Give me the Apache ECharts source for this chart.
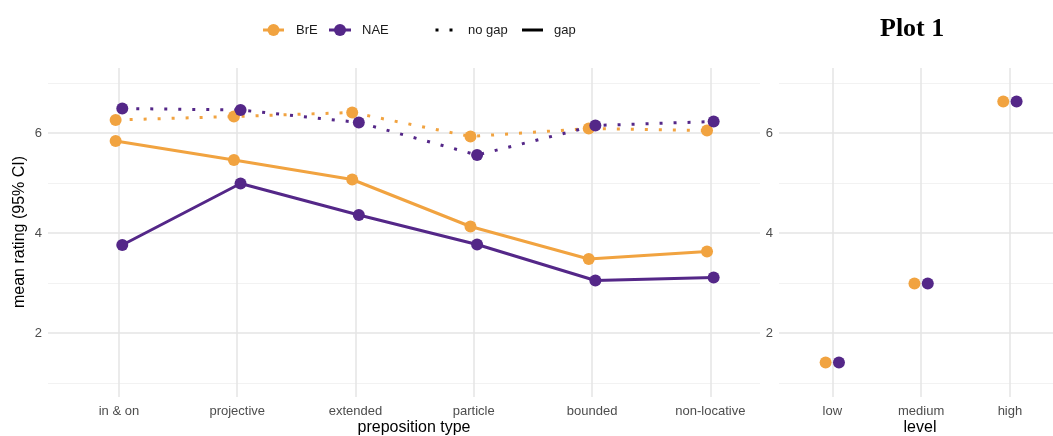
<!DOCTYPE html>
<html>
<head>
<meta charset="utf-8">
<script src="https://cdn.jsdelivr.net/npm/echarts@6/dist/echarts.min.js"></script>
<style>html,body{margin:0;padding:0;background:#fff}#c{width:1053px;height:436px}</style>
</head>
<body>
<div id="c"></div>
<script>
// ---- data ----
const categories = ['in & on', 'projective', 'extended', 'particle', 'bounded', 'non-locative'];
const breGap   = [5.84, 5.46, 5.07, 4.13, 3.48, 3.63];
const naeGap   = [3.76, 4.99, 4.36, 3.77, 3.05, 3.11];
const breNoGap = [6.26, 6.33, 6.41, 5.93, 6.09, 6.05];
const naeNoGap = [6.49, 6.46, 6.21, 5.56, 6.15, 6.23];
const levels   = ['low', 'medium', 'high'];
const breLevel = [1.41, 2.99, 6.63];
const naeLevel = [1.41, 2.99, 6.63];
const yTicks = [2, 4, 6];
const yMinor = [1, 3, 5, 7];

// ---- styles ----
const ORANGE = '#F1A340', PURPLE = '#542788';
const FONT = 'Liberation Sans, Arial, sans-serif';
const dodgeL = 0.028, dodgeR = 0.075;
const dotted = [3, 11];

function pts(vals, off) { return vals.map((v, i) => [i + off, v]); }

function gridSeries(xi, nCats) {
  const data = [];
  yTicks.forEach(v => data.push({ yAxis: v, lineStyle: { color: '#e4e4e4', width: 1.5 } }));
  yMinor.forEach(v => data.push({ yAxis: v, lineStyle: { color: '#f2f2f2', width: 1 } }));
  for (let i = 0; i < nCats; i++) data.push({ xAxis: i, lineStyle: { color: '#e4e4e4', width: 1.5 } });
  return {
    type: 'line', xAxisIndex: xi, yAxisIndex: xi, data: [], silent: true, z: 0,
    markLine: { silent: true, z: 0, zlevel: 0, symbol: 'none', label: { show: false }, animation: false,
      lineStyle: { type: 'solid' }, data: data }
  };
}

function lineSeries(name, vals, off, color, type) {
  return {
    name: name, type: 'line', xAxisIndex: 0, yAxisIndex: 0, z: 3,
    data: pts(vals, off), symbol: 'circle', symbolSize: 12, showSymbol: true,
    itemStyle: { color: color, borderWidth: 0, opacity: 1 },
    lineStyle: { color: color, width: 3, type: type, cap: 'butt' },
    animation: false, emphasis: { disabled: true }, silent: true
  };
}

function scatterSeries(name, vals, off, color) {
  return {
    name: name, type: 'scatter', xAxisIndex: 1, yAxisIndex: 1, z: 3, data: pts(vals, off),
    symbol: 'circle', symbolSize: 12, itemStyle: { color: color, opacity: 1, borderWidth: 0 },
    emphasis: { disabled: true }, silent: true
  };
}

const legendFont = '13px ' + FONT;
const option = {
  animation: false,
  textStyle: { fontFamily: FONT },
  grid: [
    { left: 48, top: 68, width: 712, height: 329 },
    { left: 779, top: 68, width: 274, height: 329 }
  ],
  xAxis: [
    { type: 'value', gridIndex: 0, min: -0.6, max: 5.42,
      axisLine: { show: false }, axisTick: { show: false }, splitLine: { show: false },
      axisLabel: { customValues: [0, 1, 2, 3, 4, 5], formatter: v => categories[Math.round(v)],
        color: '#4d4d4d', fontSize: 13, margin: 8, fontFamily: FONT } },
    { type: 'value', gridIndex: 1, min: -0.6, max: 2.485,
      axisLine: { show: false }, axisTick: { show: false }, splitLine: { show: false },
      axisLabel: { customValues: [0, 1, 2], formatter: v => levels[Math.round(v)],
        color: '#4d4d4d', fontSize: 13, margin: 8, fontFamily: FONT } }
  ],
  yAxis: [
    { type: 'value', gridIndex: 0, min: 0.72, max: 7.3,
      axisLine: { show: false }, axisTick: { show: false }, splitLine: { show: false },
      axisLabel: { customValues: yTicks, color: '#4d4d4d', fontSize: 13, margin: 6, fontFamily: FONT } },
    { type: 'value', gridIndex: 1, min: 0.72, max: 7.3,
      axisLine: { show: false }, axisTick: { show: false }, splitLine: { show: false },
      axisLabel: { customValues: yTicks, color: '#4d4d4d', fontSize: 13, margin: 6, fontFamily: FONT } }
  ],
  graphic: [
    { type: 'text', left: 880, top: 16, style: { text: 'Plot 1', font: 'bold 26px "Liberation Serif", "Times New Roman", serif', fill: '#000' } },
    { type: 'text', x: 414, y: 428, style: { text: 'preposition type', font: '16px ' + FONT, fill: '#000', align: 'center', verticalAlign: 'middle' } },
    { type: 'text', x: 920, y: 428, style: { text: 'level', font: '16px ' + FONT, fill: '#000', align: 'center', verticalAlign: 'middle' } },
    { type: 'text', x: 20, y: 232, rotation: Math.PI / 2, style: { text: 'mean rating (95% CI)', font: '16px ' + FONT, fill: '#000', align: 'center', verticalAlign: 'middle' } },
    // legend (key)
    { type: 'line', shape: { x1: 263, y1: 30, x2: 284, y2: 30 }, style: { stroke: ORANGE, lineWidth: 3 } },
    { type: 'circle', shape: { cx: 273.5, cy: 30, r: 6 }, style: { fill: ORANGE } },
    { type: 'text', x: 296, y: 30, style: { text: 'BrE', font: legendFont, fill: '#1a1a1a', verticalAlign: 'middle' } },
    { type: 'line', shape: { x1: 329, y1: 30, x2: 351, y2: 30 }, style: { stroke: PURPLE, lineWidth: 3 } },
    { type: 'circle', shape: { cx: 340, cy: 30, r: 6 }, style: { fill: PURPLE } },
    { type: 'text', x: 362, y: 30, style: { text: 'NAE', font: legendFont, fill: '#1a1a1a', verticalAlign: 'middle' } },
    { type: 'rect', shape: { x: 435.5, y: 28.5, width: 3, height: 3 }, style: { fill: '#000' } },
    { type: 'rect', shape: { x: 449.5, y: 28.5, width: 3, height: 3 }, style: { fill: '#000' } },
    { type: 'text', x: 468, y: 30, style: { text: 'no gap', font: legendFont, fill: '#1a1a1a', verticalAlign: 'middle' } },
    { type: 'line', shape: { x1: 522, y1: 30, x2: 543, y2: 30 }, style: { stroke: '#000', lineWidth: 3 } },
    { type: 'text', x: 554, y: 30, style: { text: 'gap', font: legendFont, fill: '#1a1a1a', verticalAlign: 'middle' } }
  ],
  series: [
    gridSeries(0, categories.length),
    gridSeries(1, levels.length),
    lineSeries('BrE gap', breGap, -dodgeL, ORANGE, 'solid'),
    lineSeries('BrE no gap', breNoGap, -dodgeL, ORANGE, dotted),
    lineSeries('NAE gap', naeGap, dodgeL, PURPLE, 'solid'),
    lineSeries('NAE no gap', naeNoGap, dodgeL, PURPLE, dotted),
    scatterSeries('BrE level', breLevel, -dodgeR, ORANGE),
    scatterSeries('NAE level', naeLevel, dodgeR, PURPLE)
  ]
};

const chart = echarts.init(document.getElementById('c'), null, { renderer: 'canvas' });
chart.setOption(option);
</script>
</body>
</html>
